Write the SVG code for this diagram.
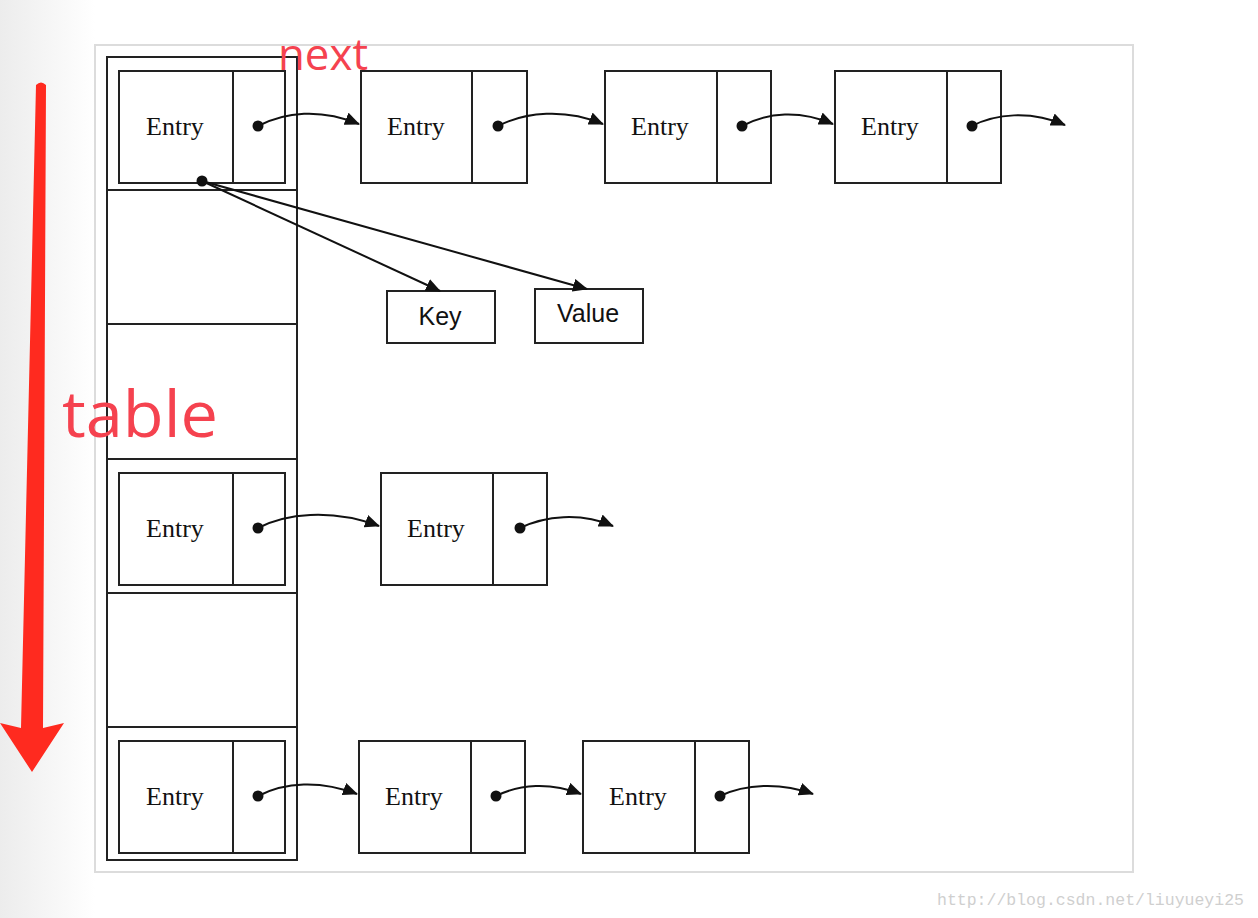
<svg xmlns="http://www.w3.org/2000/svg" width="1258" height="918" viewBox="0 0 1258 918">
<defs>
<linearGradient id="bg" x1="0" y1="0" x2="1" y2="0">
<stop offset="0" stop-color="#ececec"/>
<stop offset="1" stop-color="#ffffff"/>
</linearGradient>
<marker id="ah" markerWidth="15" markerHeight="13" refX="14" refY="6.5" orient="auto" markerUnits="userSpaceOnUse">
<path d="M0,0 L15,6.5 L0,13 Z" fill="#111"/>
</marker>
</defs>
<style>
.box{fill:#fff;stroke:#222;stroke-width:2}
.ln{stroke:#222;stroke-width:2;fill:none}
.et{font-family:"Liberation Serif",serif;font-size:26px;fill:#111;text-anchor:middle}
.kv{font-family:"Liberation Sans",Arial,sans-serif;font-size:25px;fill:#111;text-anchor:middle}
.dot{fill:#111}
.cn{stroke:#111;stroke-width:2;fill:none;marker-end:url(#ah)}
.red{font-family:"Open Sans","Liberation Sans",sans-serif;fill:#f5424f}
</style>
<rect x="0" y="0" width="1258" height="918" fill="#fff"/>
<rect x="0" y="0" width="95" height="918" fill="url(#bg)"/>
<rect x="95" y="45" width="1038" height="827" fill="#fff" stroke="#dcdcdc" stroke-width="2"/>

<g id="table">
<rect class="box" x="107" y="57" width="190" height="803"/>
<line class="ln" x1="107" y1="190" x2="297" y2="190"/>
<line class="ln" x1="107" y1="324" x2="297" y2="324"/>
<line class="ln" x1="107" y1="459" x2="297" y2="459"/>
<line class="ln" x1="107" y1="593" x2="297" y2="593"/>
<line class="ln" x1="107" y1="727" x2="297" y2="727"/>
</g>

<g id="t0"><rect class="box" x="119" y="71" width="166" height="112"/><line class="ln" x1="233" y1="71" x2="233" y2="183"/><text class="et" x="175" y="135">Entry</text></g>
<g id="t3"><rect class="box" x="119" y="473" width="166" height="112"/><line class="ln" x1="233" y1="473" x2="233" y2="585"/><text class="et" x="175" y="537">Entry</text></g>
<g id="t5"><rect class="box" x="119" y="741" width="166" height="112"/><line class="ln" x1="233" y1="741" x2="233" y2="853"/><text class="et" x="175" y="805">Entry</text></g>

<g id="e01"><rect class="box" x="361" y="71" width="166" height="112"/><line class="ln" x1="472" y1="71" x2="472" y2="183"/><text class="et" x="416" y="135">Entry</text></g>
<g id="e02"><rect class="box" x="605" y="71" width="166" height="112"/><line class="ln" x1="717" y1="71" x2="717" y2="183"/><text class="et" x="660" y="135">Entry</text></g>
<g id="e03"><rect class="box" x="835" y="71" width="166" height="112"/><line class="ln" x1="947" y1="71" x2="947" y2="183"/><text class="et" x="890" y="135">Entry</text></g>

<g id="e31"><rect class="box" x="381" y="473" width="166" height="112"/><line class="ln" x1="493" y1="473" x2="493" y2="585"/><text class="et" x="436" y="537">Entry</text></g>

<g id="e51"><rect class="box" x="359" y="741" width="166" height="112"/><line class="ln" x1="471" y1="741" x2="471" y2="853"/><text class="et" x="414" y="805">Entry</text></g>
<g id="e52"><rect class="box" x="583" y="741" width="166" height="112"/><line class="ln" x1="695" y1="741" x2="695" y2="853"/><text class="et" x="638" y="805">Entry</text></g>

<g id="key"><rect class="box" x="387" y="291" width="108" height="52"/><text class="kv" x="440" y="325">Key</text></g>
<g id="value"><rect class="box" x="535" y="289" width="108" height="54"/><text class="kv" x="588" y="322">Value</text></g>

<g id="connectors">
<path class="cn" d="M258,126 C285,112 320,108 359,124"/>
<path class="cn" d="M498,126 C525,112 565,108 603,124"/>
<path class="cn" d="M742,126 C768,112 800,110 833,124"/>
<path class="cn" d="M972,126 C995,114 1030,110 1065,125"/>
<path class="cn" d="M202,181 L440,291"/>
<path class="cn" d="M202,181 L587,289"/>
<path class="cn" d="M258,528 C285,514 330,508 379,526"/>
<path class="cn" d="M520,528 C545,516 580,512 613,526"/>
<path class="cn" d="M258,796 C285,782 320,780 357,794"/>
<path class="cn" d="M496,796 C520,784 550,782 581,794"/>
<path class="cn" d="M720,796 C745,784 780,782 813,794"/>
<circle class="dot" cx="258" cy="126" r="5.5"/>
<circle class="dot" cx="498" cy="126" r="5.5"/>
<circle class="dot" cx="742" cy="126" r="5.5"/>
<circle class="dot" cx="972" cy="126" r="5.5"/>
<circle class="dot" cx="202" cy="181" r="5.5"/>
<circle class="dot" cx="258" cy="528" r="5.5"/>
<circle class="dot" cx="520" cy="528" r="5.5"/>
<circle class="dot" cx="258" cy="796" r="5.5"/>
<circle class="dot" cx="496" cy="796" r="5.5"/>
<circle class="dot" cx="720" cy="796" r="5.5"/>
</g>

<g id="annotations">
<path d="M36,85 Q41,80 46,85 L43,728 L64,723 L32,772 L0,723 L21,728 Z" fill="#ff2a1f"/>
<text class="red" x="278" y="70" font-size="44" textLength="90" lengthAdjust="spacingAndGlyphs">next</text>
<text class="red" x="62" y="437" font-size="64" textLength="156" lengthAdjust="spacingAndGlyphs">table</text>
<text x="937" y="905" font-family="'Liberation Mono',monospace" font-size="16.5" fill="#cfcfcf">http://blog.csdn.net/liuyueyi25</text>
</g>
</svg>
